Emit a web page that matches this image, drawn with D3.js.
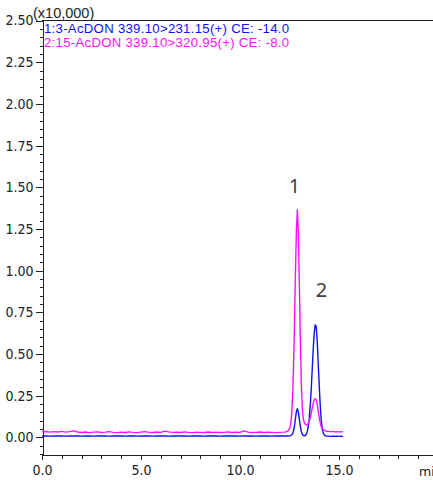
<!DOCTYPE html>
<html><head><meta charset="utf-8">
<script src="https://cdn.jsdelivr.net/npm/d3@7"></script>
<style>
html,body{margin:0;padding:0;background:#fff;}
svg{display:block;}
.ax text{font-family:"Liberation Sans Narrow","Arial Narrow","DejaVu Sans Condensed",sans-serif;font-size:14px;fill:#222;}
.ax path,.ax line{stroke:#222;shape-rendering:crispEdges;}
</style></head>
<body>
<script>
// ---- data (signal in units of x10,000 counts, time in min) ----
const seriesNames = ["1:3-AcDON 339.10>231.15(+) CE: -14.0", "2:15-AcDON 339.10>320.95(+) CE: -8.0"];
const seriesColors = ["#1010f0", "#ff10ff"];
const peakLabels = ["1", "2"];
const peakLabelTimes = [12.75, 14.12];
const peakLabelValues = [1.468, 0.839];

const baseTime = [0.0,0.2,0.4,0.6,0.8,1.0,1.2,1.4,1.6,1.8,2.0,2.2,2.4,2.6,2.8,3.0,3.2,3.4,3.6,3.8,4.0,4.2,4.4,4.6,4.8,5.0,5.2,5.4,5.6,5.8,6.0,6.2,6.4,6.6,6.8,7.0,7.2,7.4,7.6,7.8,8.0,8.2,8.4,8.6,8.8,9.0,9.2,9.4,9.6,9.8,10.0,10.2,10.4,10.6,10.8,11.0,11.2,11.4,11.6,11.8,12.0,12.2];
const blueBase = [0.008,0.009,0.007,0.008,0.009,0.008,0.007,0.009,0.008,0.008,0.007,0.009,0.008,0.007,0.008,0.009,0.008,0.007,0.008,0.008,0.009,0.007,0.008,0.008,0.007,0.009,0.008,0.008,0.007,0.008,0.009,0.008,0.007,0.008,0.009,0.008,0.008,0.007,0.008,0.009,0.008,0.007,0.008,0.008,0.009,0.007,0.008,0.008,0.009,0.008,0.007,0.009,0.008,0.008,0.007,0.008,0.009,0.008,0.007,0.008,0.008,0.009];
const magentaBase = [0.033,0.035,0.031,0.034,0.032,0.036,0.031,0.034,0.039,0.032,0.029,0.032,0.028,0.031,0.033,0.029,0.031,0.034,0.030,0.028,0.031,0.029,0.033,0.030,0.028,0.031,0.034,0.030,0.029,0.032,0.030,0.037,0.033,0.030,0.031,0.029,0.033,0.030,0.028,0.031,0.030,0.029,0.032,0.030,0.031,0.029,0.030,0.033,0.029,0.031,0.030,0.039,0.031,0.029,0.030,0.032,0.029,0.031,0.030,0.028,0.030,0.031];

const peakTime = [12.30,12.35,12.40,12.45,12.50,12.55,12.60,12.65,12.70,12.75,12.80,12.85,12.90,12.95,13.00,13.05,13.10,13.15,13.20,13.25,13.30,13.35,13.40,13.45,13.50,13.55,13.60,13.65,13.70,13.75,13.80,13.85,13.90,13.95,14.00,14.05,14.10,14.15,14.20,14.25,14.30,14.35,14.40,14.45,14.50,14.60,14.70,14.80,14.90,15.00,15.10,15.20];
const bluePeak = [0.008,0.008,0.009,0.008,0.009,0.010,0.013,0.020,0.035,0.065,0.110,0.155,0.172,0.150,0.108,0.065,0.035,0.018,0.011,0.009,0.011,0.018,0.035,0.065,0.115,0.190,0.290,0.410,0.530,0.625,0.675,0.665,0.580,0.450,0.320,0.200,0.110,0.055,0.028,0.015,0.010,0.008,0.007,0.007,0.007,0.006,0.007,0.006,0.007,0.006,0.007,0.006];
const magentaPeak = [0.032,0.034,0.037,0.042,0.052,0.070,0.120,0.220,0.400,0.660,0.970,1.240,1.365,1.220,0.920,0.580,0.320,0.170,0.110,0.088,0.078,0.074,0.076,0.084,0.098,0.118,0.145,0.175,0.205,0.225,0.232,0.226,0.198,0.160,0.120,0.088,0.066,0.054,0.047,0.043,0.040,0.038,0.036,0.036,0.035,0.034,0.035,0.033,0.034,0.033,0.034,0.033];

const yMajorTicks = [0,0.25,0.5,0.75,1.0,1.25,1.5,1.75,2.0,2.25,2.5];
const xMajorTicks = [0,5,10,15];
const yScaleLabel = "(x10,000)";
const xUnitLabel = "min";

// ---- chart ----
const W = 433, H = 480;
const svg = d3.select("body").append("svg").attr("width", W).attr("height", H);

const x = d3.scaleLinear().domain([0, 19.75]).range([42, 433]);
const y = d3.scaleLinear().domain([-0.1, 2.5]).range([454, 20.5]);

// frame top
svg.append("line").attr("x1", 42).attr("x2", W).attr("y1", 20.5).attr("y2", 20.5)
  .attr("stroke", "#222").attr("shape-rendering", "crispEdges");

// y axis minor
svg.append("g").attr("class", "ax").attr("transform", "translate(42.5,0)")
  .call(d3.axisLeft(y).tickValues(d3.range(-0.1, 2.5001, 0.05)).tickSize(3).tickFormat(""))
  .call(g => g.select(".domain").remove());
// y axis major
svg.append("g").attr("class", "ax").attr("transform", "translate(42.5,0)")
  .call(d3.axisLeft(y).tickValues(yMajorTicks).tickSize(7).tickSizeOuter(0).tickPadding(2).tickFormat(d3.format(".2f")));

// x axis minor
svg.append("g").attr("class", "ax").attr("transform", "translate(0,454.5)")
  .call(d3.axisBottom(x).tickValues(d3.range(0, 20, 1)).tickSize(3).tickFormat(""))
  .call(g => g.select(".domain").remove())
  .call(g => g.selectAll(".tick line").attr("y1", 1).attr("y2", 4));
// x axis major
svg.append("g").attr("class", "ax").attr("transform", "translate(0,454.5)")
  .call(d3.axisBottom(x).tickValues(xMajorTicks).tickSize(5).tickSizeOuter(0).tickPadding(6).tickFormat(d3.format(".1f")));

// scale label
svg.append("text").attr("x", 33).attr("y", 18).text(yScaleLabel)
  .attr("font-family", '"Liberation Sans Narrow","Arial Narrow",sans-serif').attr("font-size", 14.5).attr("fill", "#222");
// unit label
svg.append("text").attr("x", 419).attr("y", 476).text(xUnitLabel)
  .attr("font-family", '"Noto Sans",sans-serif').attr("font-size", 13).attr("fill", "#222");

// traces
const line = d3.line().x(d => x(d[0])).y(d => y(d[1]));
const blueData = baseTime.map((t, i) => [t, blueBase[i]]).concat(peakTime.map((t, i) => [t, bluePeak[i]]));
const magData = baseTime.map((t, i) => [t, magentaBase[i]]).concat(peakTime.map((t, i) => [t, magentaPeak[i]]));
svg.append("path").datum(blueData).attr("d", line).attr("fill", "none")
  .attr("stroke", seriesColors[0]).attr("stroke-width", 1.4).attr("stroke-linejoin", "round");
svg.append("path").datum(magData).attr("d", line).attr("fill", "none")
  .attr("stroke", seriesColors[1]).attr("stroke-width", 1.4).attr("stroke-linejoin", "round");

// legend
seriesNames.forEach((s, i) => {
  svg.append("text").attr("x", 44).attr("y", 33 + i * 13.5).text(s)
    .attr("font-family", '"Liberation Sans","Arial",sans-serif').attr("font-size", 13.2)
    .attr("letter-spacing", "0.28px")
    .attr("fill", seriesColors[i]);
});

// peak labels
peakLabels.forEach((p, i) => {
  svg.append("text").attr("x", x(peakLabelTimes[i])).attr("y", y(peakLabelValues[i]))
    .attr("text-anchor", "middle").text(p)
    .attr("font-family", '"Noto Sans",sans-serif').attr("font-size", 20).attr("fill", "#404040");
});
</script>
</body></html>
